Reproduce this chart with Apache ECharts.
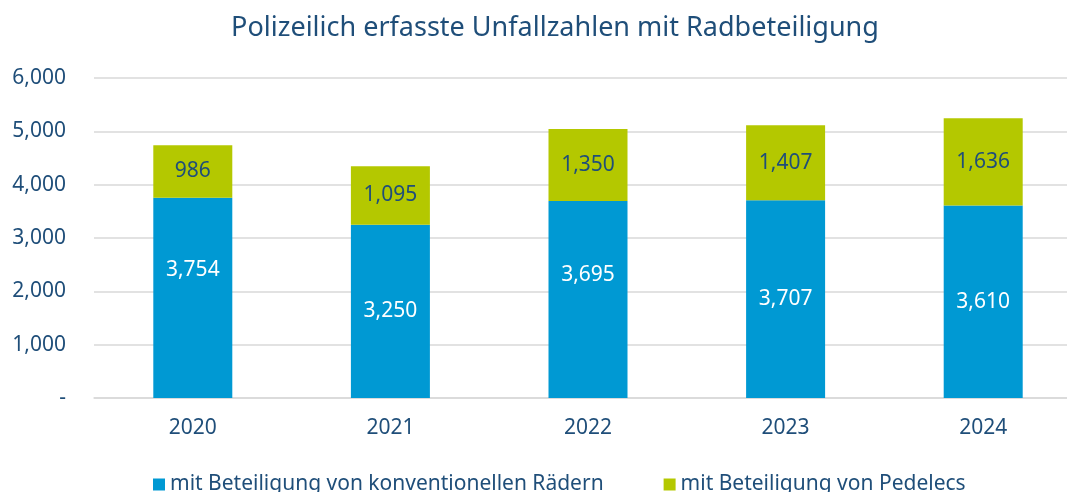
<!DOCTYPE html>
<html>
<head>
<meta charset="utf-8">
<script src="https://cdn.jsdelivr.net/npm/echarts@6/dist/echarts.min.js"></script>
<style>
  html, body { margin: 0; padding: 0; background: #fff; }
  #chart { width: 1067px; height: 492px; }
</style>
</head>
<body>
<div id="chart"></div>
<script>
// --- Daten ---
const years = ['2020', '2021', '2022', '2023', '2024'];
const konventionell = [3754, 3250, 3695, 3707, 3610];
const pedelecs = [986, 1095, 1350, 1407, 1636];
const yTicks = [0, 1000, 2000, 3000, 4000, 5000, 6000];

const TEXT = '#1f4e79';
const FONT = 'Noto Sans';
// Excel-Beschriftungen wurden teils von Hand verschoben
const blueLabelShift = [-28, 0, -24, 0, 0];

const fmt = v => v === 0 ? '-' : v.toLocaleString('en-US');

const chart = echarts.init(document.getElementById('chart'));
chart.setOption({
    animation: false,
    textStyle: { fontFamily: FONT },
    title: {
        text: 'Polizeilich erfasste Unfallzahlen mit Radbeteiligung',
        left: 550, top: 10, textAlign: 'center',
        textStyle: { color: TEXT, fontSize: 27, fontWeight: 'normal', fontFamily: FONT }
    },
    // Originalgrafik ist rechts beschnitten -> Gitter ragt über den Rand
    grid: { left: 94, width: 988, top: 78, bottom: 94, containLabel: false, outerBoundsMode: 'none' },
    legend: {
        bottom: -8, left: 148,
        itemWidth: 12, itemHeight: 12, itemGap: 60, icon: 'rect',
        textStyle: { color: TEXT, fontSize: 21, fontFamily: FONT }
    },
    xAxis: {
        type: 'category', data: years,
        axisLine: { lineStyle: { color: '#d9d9d9', width: 1.5 } },
        axisTick: { show: false },
        axisLabel: { color: TEXT, fontSize: 21, margin: 20 }
    },
    yAxis: {
        type: 'value', min: yTicks[0], max: yTicks[yTicks.length - 1], interval: 1000,
        axisLine: { show: false }, axisTick: { show: false },
        splitLine: { lineStyle: { color: '#d9d9d9', width: 1.5 } },
        axisLabel: { color: TEXT, fontSize: 21, margin: 28, formatter: fmt }
    },
    series: [
        {
            name: 'mit Beteiligung von konventionellen Rädern',
            type: 'bar', stack: 'all', barWidth: 79,
            itemStyle: { color: '#0099d3' },
            data: konventionell.map((v, i) => ({
                value: v,
                label: { offset: [0, blueLabelShift[i]] }
            })),
            label: { show: true, position: 'inside', color: '#ffffff', fontSize: 21, formatter: p => fmt(p.value) }
        },
        {
            name: 'mit Beteiligung von Pedelecs',
            type: 'bar', stack: 'all', barWidth: 79,
            itemStyle: { color: '#b4c800' },
            data: pedelecs,
            label: { show: true, position: 'inside', color: TEXT, fontSize: 21, formatter: p => fmt(p.value) }
        }
    ]
});
</script>
</body>
</html>
